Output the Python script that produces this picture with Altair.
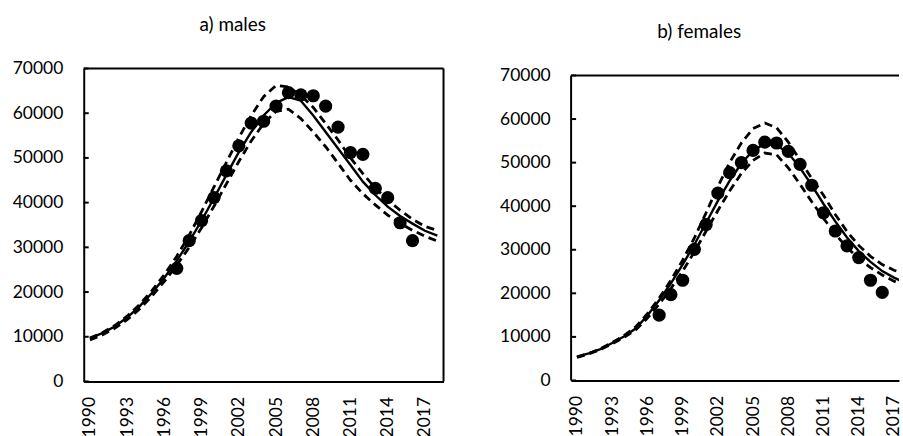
import altair as alt
import pandas as pd

# ---------------- data ----------------
years = list(range(1990, 2019))
obs_years = list(range(1997, 2017))

males_obs = [25300, 31500, 36000, 41100, 47100, 52700, 57800, 58200, 61600, 64600,
             64100, 63900, 61600, 56900, 51200, 50800, 43200, 41100, 35500, 31500]
males_fit = [9700, 10800, 12300, 14300, 16800, 19800, 23200, 27000, 31300, 36000,
             41000, 46200, 51300, 55800, 59500, 62300, 63600, 62800, 59500, 55800,
             52100, 48400, 44700, 41700, 39100, 37000, 35300, 33700, 32600]
males_hi = [9700, 10900, 12500, 14600, 17200, 20300, 23900, 28000, 32700, 38000,
            43500, 49000, 54500, 59500, 63700, 66200, 65900, 64000, 61300, 57700,
            54000, 50000, 46500, 43300, 40600, 38300, 36300, 34700, 33800]
males_lo = [9300, 10400, 11900, 13800, 16200, 19100, 22400, 26000, 30000, 34400,
            39200, 44200, 49200, 53800, 57700, 60400, 60900, 58800, 55800, 52500,
            48800, 45000, 42000, 39500, 37200, 35400, 33800, 32500, 31400]

fem_obs = [15000, 19700, 23000, 30100, 35800, 43000, 47700, 50000, 52800, 54700,
           54500, 52600, 49600, 44800, 38500, 34300, 30900, 28200, 23000, 20200]
fem_fit = [5400, 6200, 7200, 8600, 10100, 11900, 14900, 18400, 22300, 26600,
           31200, 36200, 41200, 45800, 49800, 52800, 54300, 54000, 52200, 48800,
           44800, 40500, 36500, 32800, 29700, 27200, 25100, 23600, 22400]
fem_hi = [5400, 6200, 7300, 8700, 10300, 12300, 15300, 18900, 23000, 27600,
          32700, 38500, 44500, 50000, 54500, 57800, 59100, 58000, 54700, 50600,
          46300, 42500, 38100, 34200, 31000, 28500, 26600, 25300, 24400]
fem_lo = [5300, 6100, 7100, 8400, 9900, 11600, 14300, 17500, 21100, 25100,
          29500, 34300, 39000, 43500, 47500, 50500, 52200, 51800, 48800, 45000,
          41000, 37200, 33600, 30500, 28000, 25900, 24200, 22800, 21700]

y_ticks = [0, 10000, 20000, 30000, 40000, 50000, 60000, 70000]
x_ticks = list(range(1990, 2018, 3))

FONT = "Lato"
FS = 17.5


def panel(title, obs, fit, hi, lo, width, height, xmax, ymax, dx, toff, full_box):
    curves = pd.DataFrame({
        "year": years * 2,
        "value": hi + lo,
        "series": ["hi"] * len(years) + ["lo"] * len(years),
    })
    fitdf = pd.DataFrame({"year": years, "value": fit})
    pts = pd.DataFrame({"year": obs_years, "value": obs})

    xs = alt.Scale(domain=[1989.5, xmax], nice=False, zero=False)
    ys = alt.Scale(domain=[0, ymax], nice=False, zero=True)
    xaxis = alt.Axis(values=x_ticks, format="d", labelAngle=-90, ticks=False, tickSize=0,
                     labelPadding=15, domain=True, domainColor="black", domainWidth=2,
                     grid=False, title=None, labelFont=FONT, labelFontSize=FS,
                     labelColor="black", labelOverlap=False, labelFlush=False)
    yaxis = alt.Axis(values=y_ticks, format="d", ticks=False, tickSize=0, labelPadding=21,
                     domain=full_box, domainColor="black", domainWidth=2, grid=False,
                     title=None, labelFont=FONT, labelFontSize=FS, labelColor="black",
                     labelOverlap=False, labelFlush=False)

    X = lambda f: alt.X(f, type="quantitative", scale=xs, axis=xaxis)
    Y = lambda f: alt.Y(f, type="quantitative", scale=ys, axis=yaxis)

    dashed = alt.Chart(curves).mark_line(color="black", strokeWidth=2.8, strokeDash=[8, 5],
                                         clip=True).encode(
        x=X("year"), y=Y("value"), detail="series:N")
    solid = alt.Chart(fitdf).mark_line(color="black", strokeWidth=2.4, clip=True).encode(
        x=X("year"), y=Y("value"))
    dots = alt.Chart(pts).mark_circle(color="black", opacity=1, size=175).encode(
        x=X("year"), y=Y("value"))

    # inward tick marks on the y axis
    ticks = alt.Chart(pd.DataFrame({"t": y_ticks})).mark_rule(color="black", strokeWidth=2).encode(
        y=Y("t"), x=alt.value(0), x2=alt.value(5))

    # frame lines
    top = alt.Chart(pd.DataFrame({"x": [1989.5], "x2": [xmax], "y": [70000]})).mark_rule(
        color="black", strokeWidth=2, clip=False).encode(x=X("x"), x2="x2:Q", y=Y("y"))
    layers = [dashed, solid, dots, ticks, top]
    if full_box:
        right = alt.Chart(pd.DataFrame({"x": [xmax], "y": [0], "y2": [70000]})).mark_rule(
            color="black", strokeWidth=2).encode(x=X("x"), y=Y("y"), y2="y2:Q")
        layers.append(right)
    else:
        left = alt.Chart(pd.DataFrame({"x": [1989.5], "y": [0], "y2": [70000]})).mark_rule(
            color="black", strokeWidth=2).encode(x=X("x"), y=Y("y"), y2="y2:Q")
        layers.append(left)

    return alt.layer(*layers).properties(
        width=width, height=height,
        title=alt.TitleParams(text=title, font=FONT, fontSize=19, fontWeight="normal",
                              color="black", anchor="middle", dx=dx, offset=toff),
    )


pa = panel("a) males", males_obs, males_fit, males_hi, males_lo,
           width=361, height=314, xmax=2018.5, ymax=70000, dx=-31, toff=25, full_box=True)
# panel b runs off the right edge of the figure in the original
pb = panel("b) females", fem_obs, fem_fit, fem_hi, fem_lo,
           width=329, height=313, xmax=1989.5 + 329 / 11.78, ymax=70000 * 313 / 306,
           dx=-36, toff=25, full_box=False)

chart = alt.hconcat(pa, pb, spacing=128, bounds="flush").configure_view(
    stroke=None
).properties(
    padding={"left": 12, "top": 15, "right": 0, "bottom": 0},
    background="white",
)

chart.save("out.html", embed_options={"renderer": "svg", "actions": False})
